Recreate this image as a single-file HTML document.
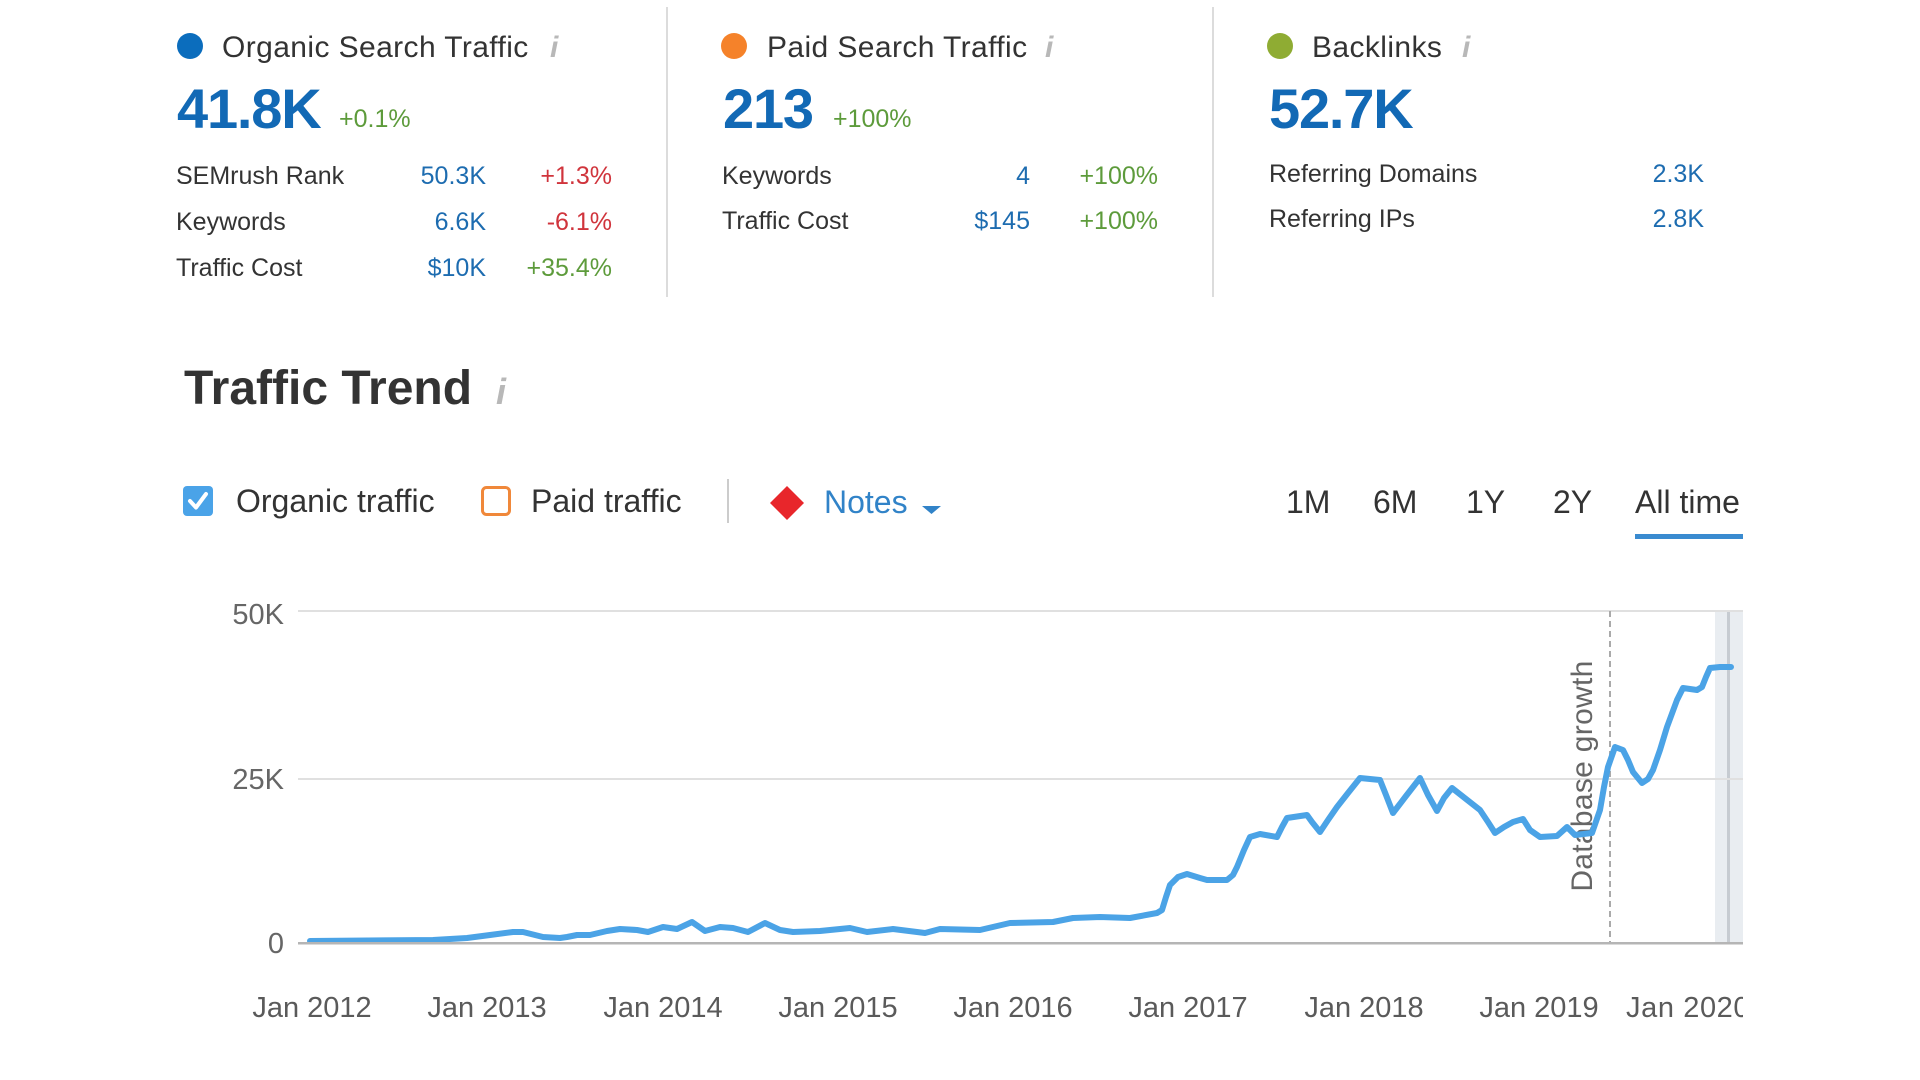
<!DOCTYPE html>
<html>
<head>
<meta charset="utf-8">
<style>
  html,body{margin:0;padding:0;background:#ffffff;}
  body{width:1920px;height:1080px;overflow:hidden;position:relative;}
  svg{position:absolute;left:0;top:0;}
  text{font-family:"Liberation Sans",sans-serif;}
</style>
</head>
<body>
<svg width="1920" height="1080" viewBox="0 0 1920 1080" xmlns="http://www.w3.org/2000/svg">
  <defs>
    <clipPath id="plotclip"><rect x="0" y="0" width="1743" height="1080"/></clipPath>
  </defs>

  <!-- ===== Top summary cards ===== -->
  <rect x="666" y="7" width="2" height="290" fill="#dcdcdc"/>
  <rect x="1212" y="7" width="2" height="290" fill="#dcdcdc"/>

  <!-- Column 1 -->
  <circle cx="190" cy="46" r="13" fill="#0b6dbd"/>
  <text x="222" y="57" font-size="30" fill="#333" letter-spacing="0.4">Organic Search Traffic</text>
  <text x="550" y="57" font-size="30" fill="#b8b8b8" font-family="Liberation Serif" font-style="italic" font-weight="bold">i</text>
  <text x="177" y="128" font-size="56" font-weight="bold" fill="#1269b5" letter-spacing="-1.2">41.8K</text>
  <text x="339" y="127" font-size="25" fill="#5d9b3b">+0.1%</text>

  <text x="176" y="184" font-size="25" fill="#333">SEMrush Rank</text>
  <text x="486" y="184" font-size="25" fill="#1d6cb0" text-anchor="end">50.3K</text>
  <text x="612" y="184" font-size="25" fill="#d0343c" text-anchor="end">+1.3%</text>

  <text x="176" y="230" font-size="25" fill="#333">Keywords</text>
  <text x="486" y="230" font-size="25" fill="#1d6cb0" text-anchor="end">6.6K</text>
  <text x="612" y="230" font-size="25" fill="#d0343c" text-anchor="end">-6.1%</text>

  <text x="176" y="276" font-size="25" fill="#333">Traffic Cost</text>
  <text x="486" y="276" font-size="25" fill="#1d6cb0" text-anchor="end">$10K</text>
  <text x="612" y="276" font-size="25" fill="#5d9b3b" text-anchor="end">+35.4%</text>

  <!-- Column 2 -->
  <circle cx="734" cy="46" r="13" fill="#f5822a"/>
  <text x="767" y="57" font-size="30" fill="#333" letter-spacing="0.4">Paid Search Traffic</text>
  <text x="1045" y="57" font-size="30" fill="#b8b8b8" font-family="Liberation Serif" font-style="italic" font-weight="bold">i</text>
  <text x="723" y="128" font-size="56" font-weight="bold" fill="#1269b5" letter-spacing="-1.2">213</text>
  <text x="833" y="127" font-size="25" fill="#5d9b3b">+100%</text>

  <text x="722" y="184" font-size="25" fill="#333">Keywords</text>
  <text x="1030" y="184" font-size="25" fill="#1d6cb0" text-anchor="end">4</text>
  <text x="1158" y="184" font-size="25" fill="#5d9b3b" text-anchor="end">+100%</text>

  <text x="722" y="229" font-size="25" fill="#333">Traffic Cost</text>
  <text x="1030" y="229" font-size="25" fill="#1d6cb0" text-anchor="end">$145</text>
  <text x="1158" y="229" font-size="25" fill="#5d9b3b" text-anchor="end">+100%</text>

  <!-- Column 3 -->
  <circle cx="1280" cy="46" r="13" fill="#8fac33"/>
  <text x="1312" y="57" font-size="30" fill="#333" letter-spacing="0.4">Backlinks</text>
  <text x="1462" y="57" font-size="30" fill="#b8b8b8" font-family="Liberation Serif" font-style="italic" font-weight="bold">i</text>
  <text x="1269" y="128" font-size="56" font-weight="bold" fill="#1269b5" letter-spacing="-1.2">52.7K</text>

  <text x="1269" y="182" font-size="25" fill="#333">Referring Domains</text>
  <text x="1704" y="182" font-size="25" fill="#1d6cb0" text-anchor="end">2.3K</text>
  <text x="1269" y="227" font-size="25" fill="#333">Referring IPs</text>
  <text x="1704" y="227" font-size="25" fill="#1d6cb0" text-anchor="end">2.8K</text>

  <!-- ===== Traffic Trend header ===== -->
  <text x="184" y="404" font-size="48" font-weight="bold" fill="#333">Traffic Trend</text>
  <text x="496" y="404" font-size="36" fill="#b8b8b8" font-family="Liberation Serif" font-style="italic" font-weight="bold">i</text>

  <!-- controls -->
  <rect x="183" y="486" width="30" height="30" rx="4" fill="#4aa3e8"/>
  <path d="M190,501 L196,507.5 L206,494" fill="none" stroke="#ffffff" stroke-width="4" stroke-linecap="round" stroke-linejoin="round"/>
  <text x="236" y="512" font-size="32" fill="#333">Organic traffic</text>

  <rect x="482.5" y="487.5" width="27" height="27" rx="4" fill="none" stroke="#f0883a" stroke-width="3"/>
  <text x="531" y="512" font-size="32" fill="#333">Paid traffic</text>

  <rect x="727" y="479" width="2" height="44" fill="#cccccc"/>

  <polygon points="787,486 804,503 787,520 770,503" fill="#e8262b"/>
  <text x="824" y="513" font-size="32" fill="#3183c8">Notes</text>
  <polygon points="922,506 941,506 931.5,514" fill="#3183c8"/>

  <text x="1286" y="513" font-size="32" fill="#333">1M</text>
  <text x="1373" y="513" font-size="32" fill="#333">6M</text>
  <text x="1466" y="513" font-size="32" fill="#333">1Y</text>
  <text x="1553" y="513" font-size="32" fill="#333">2Y</text>
  <text x="1635" y="513" font-size="32" fill="#333">All time</text>
  <rect x="1635" y="534" width="108" height="5" fill="#3a8bd0"/>

  <!-- ===== Chart ===== -->
  <rect x="1715" y="611" width="28" height="332" fill="#e9edf1"/>
  <rect x="1727" y="611" width="3" height="332" fill="#c6cbd1"/>

  <rect x="298" y="610" width="1445" height="2" fill="#e0e0e0"/>
  <rect x="298" y="778" width="1445" height="2" fill="#e0e0e0"/>

  <line x1="1610" y1="611" x2="1610" y2="943" stroke="#aaaaaa" stroke-width="2" stroke-dasharray="6 4"/>
  <text transform="translate(1592,776) rotate(-90)" x="0" y="0" font-size="30" fill="#666" text-anchor="middle" letter-spacing="0.3">Database growth</text>

  <text x="284" y="624" font-size="29" fill="#666" text-anchor="end">50K</text>
  <text x="284" y="789" font-size="29" fill="#666" text-anchor="end">25K</text>
  <text x="284" y="953" font-size="29" fill="#666" text-anchor="end">0</text>

  <polyline fill="none" stroke="#4ba3e6" stroke-width="6" stroke-linejoin="round" stroke-linecap="round"
    points="310,941 433,940 467,938 490,935 513,932 523,932 543,937 560,938 567,937 577,935 590,935 607,931 620,929 637,930 648,932 663,927 677,929 692,922 705,931 720,927 733,928 748,932 765,923 780,930 793,932 820,931 850,928 867,932 893,929 925,933 940,929 980,930 1010,923 1053,922 1073,918 1100,917 1130,918 1157,913 1162,910 1166,897 1170,885 1178,877 1187,874 1200,878 1207,880 1227,880 1233,875 1237,867 1244,850 1250,837 1260,834 1277,837 1282,827 1287,818 1307,815 1312,822 1320,832 1328,820 1337,807 1348,793 1360,778 1380,780 1386,795 1393,813 1406,796 1420,778 1428,795 1437,811 1444,798 1452,788 1466,799 1480,810 1488,822 1495,833 1504,827 1513,822 1523,819 1530,830 1540,837 1557,836 1567,827 1575,835 1592,833 1600,810 1604,787 1608,767 1615,747 1623,750 1628,760 1633,772 1642,783 1648,779 1653,770 1660,750 1667,727 1677,700 1683,688 1697,690 1702,687 1706,677 1710,668 1720,667 1731,667"/>

  <rect x="298" y="942" width="1445" height="2.5" fill="#b5b5b5"/>

  <g font-size="29" fill="#5a5a5a" text-anchor="middle">
    <text x="312" y="1017">Jan 2012</text>
    <text x="487" y="1017">Jan 2013</text>
    <text x="663" y="1017">Jan 2014</text>
    <text x="838" y="1017">Jan 2015</text>
    <text x="1013" y="1017">Jan 2016</text>
    <text x="1188" y="1017">Jan 2017</text>
    <text x="1364" y="1017">Jan 2018</text>
    <text x="1539" y="1017">Jan 2019</text>
  </g>
  <g clip-path="url(#plotclip)">
    <text x="1626" y="1017" font-size="29" fill="#5a5a5a" letter-spacing="0.6">Jan 2020</text>
  </g>
</svg>
</body>
</html>
